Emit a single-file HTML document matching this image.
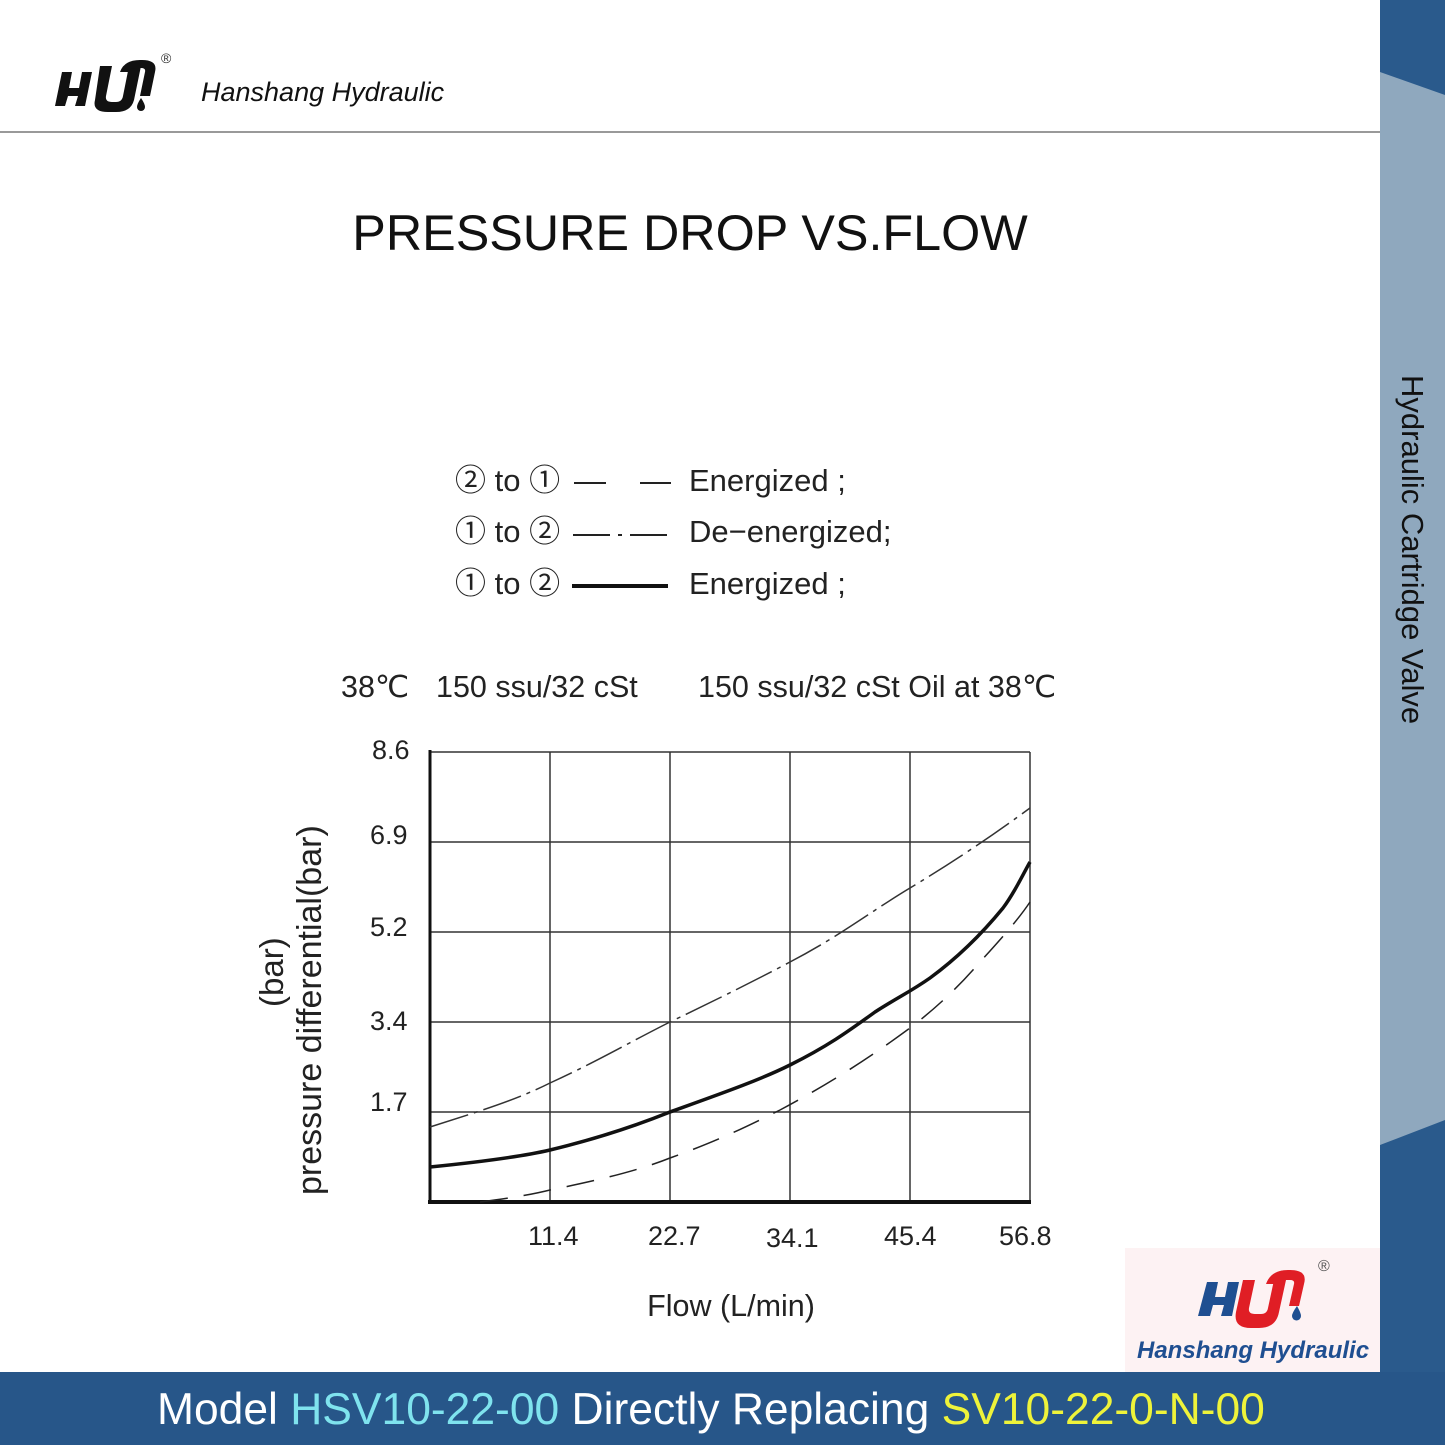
<!DOCTYPE html>
<html><head><meta charset="utf-8">
<style>
html,body{margin:0;padding:0;background:#fff;}
body{width:1445px;height:1445px;overflow:hidden;position:relative;}
svg{position:absolute;left:0;top:0;}
</style></head>
<body>
<svg width="1445" height="1445" viewBox="0 0 1445 1445" xmlns="http://www.w3.org/2000/svg">
<rect width="1445" height="1445" fill="#fff"/>
<rect x="1380" y="0" width="65" height="1445" fill="#8fa8be"/>
<polygon points="1380,0 1445,0 1445,95 1380,72" fill="#2a5a8c"/>
<polygon points="1380,1145 1445,1120 1445,1445 1380,1445" fill="#2a5a8c"/>
<text transform="translate(1402,375) rotate(90)" font-family="Liberation Sans, sans-serif" font-size="31" fill="#111">Hydraulic Cartridge Valve</text>
<rect x="0" y="1372" width="1445" height="73" fill="#275689"/>
<text x="157" y="1424" font-family="Liberation Sans, sans-serif" font-size="44.4" fill="#fff">Model <tspan fill="#7fe3ee">HSV10-22-00</tspan> Directly Replacing <tspan fill="#eef33a">SV10-22-0-N-00</tspan></text>
<g fill="#111">
<polygon points="62,72 72,72 69,88 79,88 82,72 92,72 85,106 75,106 78,96 68,96 65,106 55,106"/>
<path d="M100,66 h12 l-6,30 q-1,6 6,6 h4 q6,0 7,-6 l6,-30 h12 l-7,34 q-3,12 -18,12 h-8 q-16,0 -13,-12z"/>
<path d="M120,72 q4,-12 20,-12 h2 q16,0 13,12 l-5,24 h-10 l5,-24 q1,-4 -4,-4 h-6 q-5,0 -6,4z"/>
<path d="M141,98 q4,6 4,9 a4,4 0 0 1 -8,0 q0,-3 4,-9z"/>
</g>
<text x="161" y="63" font-family="Liberation Sans, sans-serif" font-size="14" fill="#333">®</text>
<text x="201" y="101" font-family="Liberation Sans, sans-serif" font-style="italic" font-size="27" fill="#111">Hanshang Hydraulic</text>
<rect x="0" y="131" width="1380" height="2" fill="#999"/>
<text x="690" y="250" text-anchor="middle" font-family="Liberation Sans, sans-serif" font-size="50.3" fill="#111">PRESSURE DROP VS.FLOW</text>
<g font-family="Liberation Sans, 'Noto Sans CJK SC', sans-serif" font-size="31" fill="#222">
<text x="455" y="491">② to ①</text>
<text x="455" y="542">① to ②</text>
<text x="455" y="594">① to ②</text>
<text x="689" y="491">Energized ;</text>
<text x="689" y="542">De−energized;</text>
<text x="689" y="594">Energized ;</text>
</g>
<line x1="574" y1="483" x2="606" y2="483" stroke="#222" stroke-width="2"/>
<line x1="640" y1="483" x2="671" y2="483" stroke="#222" stroke-width="2"/>
<line x1="573" y1="535" x2="610" y2="535" stroke="#222" stroke-width="2"/>
<line x1="618" y1="535" x2="622" y2="535" stroke="#222" stroke-width="2"/>
<line x1="630" y1="535" x2="667" y2="535" stroke="#222" stroke-width="2"/>
<line x1="572" y1="586" x2="668" y2="586" stroke="#111" stroke-width="4"/>
<g font-family="Liberation Sans, sans-serif" font-size="30.5" fill="#222">
<text x="341" y="697">38℃</text>
<text x="436" y="697">150 ssu/32 cSt</text>
<text x="698" y="697">150 ssu/32 cSt Oil at 38℃</text>
</g>
<g stroke="#333" stroke-width="1.5" fill="none">
<line x1="430" y1="752" x2="1030" y2="752"/>
<line x1="1030" y1="752" x2="1030" y2="1202"/>
<line x1="550" y1="752" x2="550" y2="1202"/>
<line x1="670" y1="752" x2="670" y2="1202"/>
<line x1="790" y1="752" x2="790" y2="1202"/>
<line x1="910" y1="752" x2="910" y2="1202"/>
<line x1="430" y1="842" x2="1030" y2="842"/>
<line x1="430" y1="932" x2="1030" y2="932"/>
<line x1="430" y1="1022" x2="1030" y2="1022"/>
<line x1="430" y1="1112" x2="1030" y2="1112"/>
</g>
<line x1="430" y1="750" x2="430" y2="1204" stroke="#111" stroke-width="3"/>
<line x1="428" y1="1202" x2="1031" y2="1202" stroke="#111" stroke-width="4"/>
<path d="M430,1127 C490,1108 520,1098 550,1083 C600,1060 630,1042 670,1022 C720,998 760,978 790,962 C840,936 870,912 910,888 C960,858 1000,830 1030,808" fill="none" stroke="#333" stroke-width="1.5" stroke-dasharray="40,6,4,6"/>
<path d="M430,1167 C480,1162 520,1157 550,1150 C600,1138 640,1124 670,1112 C720,1094 760,1080 790,1065 C830,1045 850,1030 875,1012 C900,996 910,992 930,978 C960,956 985,930 1003,908 C1015,892 1022,876 1030,862" fill="none" stroke="#111" stroke-width="3.5"/>
<path d="M480,1202 C510,1198 530,1195 550,1190 C600,1180 640,1170 670,1158 C720,1140 750,1125 780,1110 C840,1078 880,1050 910,1028 C940,1005 960,985 980,962 C1000,940 1018,920 1030,902" fill="none" stroke="#222" stroke-width="1.5" stroke-dasharray="28,16"/>
<g font-family="Liberation Sans, sans-serif" font-size="27" fill="#222">
<text x="372" y="759">8.6</text>
<text x="370" y="844">6.9</text>
<text x="370" y="936">5.2</text>
<text x="370" y="1030">3.4</text>
<text x="370" y="1111">1.7</text>
<text x="528" y="1245">11.4</text>
<text x="648" y="1245">22.7</text>
<text x="766" y="1247">34.1</text>
<text x="884" y="1245">45.4</text>
<text x="999" y="1245">56.8</text>
</g>
<text x="731" y="1316" text-anchor="middle" font-family="Liberation Sans, sans-serif" font-size="30.5" fill="#222">Flow (L/min)</text>
<text transform="translate(283,1007) rotate(-90)" font-family="Liberation Sans, sans-serif" font-size="33" fill="#222">(bar)</text>
<text transform="translate(321,1195) rotate(-90)" font-family="Liberation Sans, sans-serif" font-size="34" fill="#222">pressure differential(bar)</text>
<rect x="1125" y="1248" width="255" height="124" fill="#fdf2f3"/>
<g>
<polygon points="1207,1282 1218,1282 1215,1297 1225,1297 1228,1282 1239,1282 1232,1316 1221,1316 1224,1305 1213,1305 1210,1316 1198,1316" fill="#1f4f91"/>
<path d="M1243,1280 h12 l-6,28 q-1,6 6,6 h6 q6,0 7,-6 l6,-28 h12 l-7,32 q-3,16 -20,16 h-8 q-18,0 -15,-16z" fill="#e01e25"/>
<path d="M1266,1284 q5,-14 22,-14 h2 q18,0 14,14 l-5,22 h-10 l5,-22 q1,-4 -4,-4 h-6 q-5,0 -6,4z" fill="#e01e25"/>
<path d="M1297,1306 q4,7 4,10 a4.5,4.5 0 0 1 -9,0 q0,-3 5,-10z" fill="#1f4f91"/>
</g>
<text x="1318" y="1271" font-family="Liberation Sans, sans-serif" font-size="16" fill="#555">®</text>
<text x="1137" y="1358" font-family="Liberation Sans, sans-serif" font-weight="bold" font-style="italic" font-size="24" fill="#1f4f91">Hanshang Hydraulic</text>
</svg>
</body></html>
